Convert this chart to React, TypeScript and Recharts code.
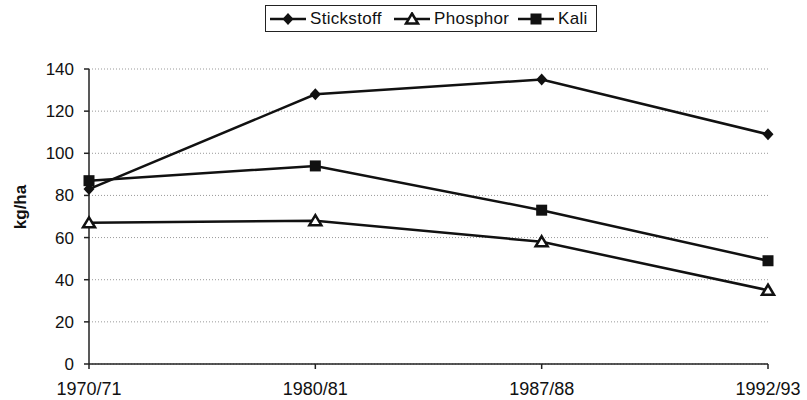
import { LineChart, Line, XAxis, YAxis, CartesianGrid, Label } from 'recharts'

const years = ['1970/71', '1980/81', '1987/88', '1992/93']
const stickstoff = [83, 128, 135, 109]
const phosphor = [67, 68, 58, 35]
const kali = [87, 94, 73, 49]
const yTicks = [0, 20, 40, 60, 80, 100, 120, 140]

const data = years.map((y, i) => ({
  year: y,
  Stickstoff: stickstoff[i],
  Phosphor: phosphor[i],
  Kali: kali[i],
}))

const font = '"Liberation Sans", Arial, sans-serif'

function Marker({ kind, cx, cy }: { kind: string; cx: number; cy: number }) {
  if (kind === 'diamond') {
    return <path d={`M${cx},${cy - 6}L${cx + 5.5},${cy}L${cx},${cy + 6}L${cx - 5.5},${cy}Z`} fill="#111" />
  }
  if (kind === 'triangle') {
    return (
      <path
        d={`M${cx},${cy - 5.5}L${cx + 6},${cy + 4.5}L${cx - 6},${cy + 4.5}Z`}
        fill="#fff"
        stroke="#111"
        strokeWidth={2.5}
      />
    )
  }
  return <rect x={cx - 5.5} y={cy - 5.5} width={11} height={11} fill="#111" />
}

const dotFor = (kind: string) => (p: any) => (
  <Marker key={`${kind}-${p.index}`} kind={kind} cx={p.cx} cy={p.cy} />
)

const legendItems = [
  { name: 'Stickstoff', kind: 'diamond', w: 124 },
  { name: 'Phosphor', kind: 'triangle', w: 124 },
  { name: 'Kali', kind: 'square', w: 70 },
]

function LegendBox() {
  return (
    <div
      style={{
        position: 'absolute',
        left: 265,
        top: 5,
        width: 332,
        height: 27,
        border: '1.5px solid #222',
        display: 'flex',
        alignItems: 'center',
        paddingLeft: 4,
        fontFamily: font,
        fontSize: 17,
        letterSpacing: 0.3,
        color: '#111',
        boxSizing: 'border-box',
      }}
    >
      {legendItems.map(it => (
        <span key={it.name} style={{ display: 'flex', alignItems: 'center', width: it.w, flex: 'none' }}>
          <svg width={36} height={14}>
            <line x1={0} y1={7} x2={36} y2={7} stroke="#111" strokeWidth={2.5} />
            <Marker kind={it.kind} cx={18} cy={7} />
          </svg>
          <span style={{ marginLeft: 4 }}>{it.name}</span>
        </span>
      ))}
    </div>
  )
}

export default function App() {
  return (
    <div style={{ position: 'fixed', left: 0, top: 0, width: 807, height: 400, background: '#fff' }}>
      <LineChart width={807} height={400} data={data} margin={{ top: 69, right: 39, bottom: 0, left: 39 }}>
        <CartesianGrid vertical={false} stroke="#999" strokeDasharray="1 2" />
        <XAxis
          dataKey="year"
          stroke="#222"
          strokeWidth={1.5}
          tickSize={5}
          height={36}
          tick={{ fill: '#111', fontSize: 18, fontFamily: font }}
          tickMargin={13}
          interval={0}
        />
        <YAxis
          domain={[0, 140]}
          ticks={yTicks}
          width={50}
          stroke="#222"
          strokeWidth={1.5}
          tickSize={5}
          tick={{ fill: '#111', fontSize: 17, fontFamily: font }}
          tickMargin={10}
        >
          <Label
            content={() => (
              <text
                x={20}
                y={207}
                transform="rotate(-90 20 207)"
                textAnchor="middle"
                dominantBaseline="central"
                fontFamily={font}
                fontSize={17}
                fontWeight="bold"
                fill="#111"
              >
                kg/ha
              </text>
            )}
          />
        </YAxis>
        <Line dataKey="Stickstoff" stroke="#111" strokeWidth={2.5} dot={dotFor('diamond')} isAnimationActive={false} />
        <Line dataKey="Phosphor" stroke="#111" strokeWidth={2.5} dot={dotFor('triangle')} isAnimationActive={false} />
        <Line dataKey="Kali" stroke="#111" strokeWidth={2.5} dot={dotFor('square')} isAnimationActive={false} />
      </LineChart>
      <LegendBox />
    </div>
  )
}
